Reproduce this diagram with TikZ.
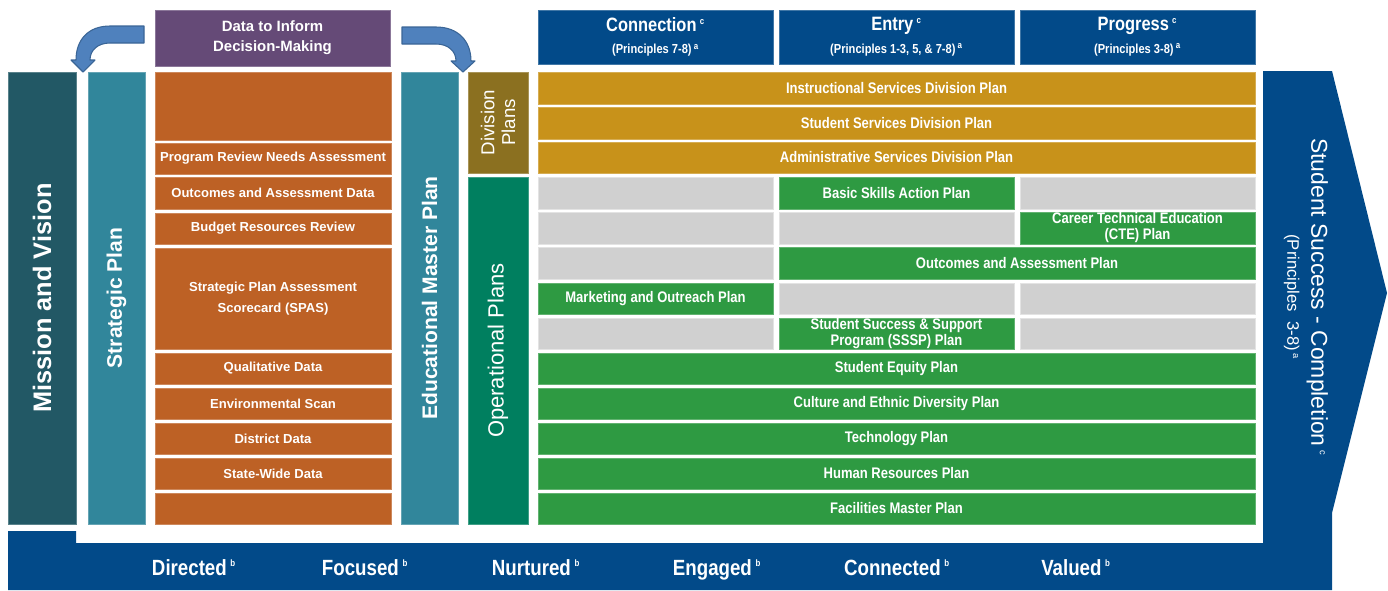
\documentclass[tikz,border=0pt]{standalone}
\usepackage{fontspec}
\setmainfont{Liberation Sans}
\newfontfamily\nar[FakeStretch=0.85]{Liberation Sans}
\definecolor{mission}{HTML}{225865}
\definecolor{teal}{HTML}{31869B}
\definecolor{orng}{HTML}{BD6125}
\definecolor{purp}{HTML}{654A77}
\definecolor{olive}{HTML}{8B7020}
\definecolor{opgreen}{HTML}{007F5F}
\definecolor{gold}{HTML}{C8921A}
\definecolor{grn}{HTML}{2E9A42}
\definecolor{gry}{HTML}{D0D0D0}
\definecolor{navy}{HTML}{024A89}
\definecolor{arrfill}{HTML}{4F81BD}
\definecolor{arrline}{HTML}{3A6596}
\newcommand\bx[7]{\node[#6, anchor=north west, minimum width={(#4-#2)*0.75pt}, minimum height={(#5-#3)*0.75pt}] (#1) at (#2,#3) {#7};}
\tikzset{
  base/.style={inner sep=0pt, outer sep=0pt, line width=0.5pt, text=white, align=center},
  colbox/.style={base, fill=#1, draw=#1!75!white},
  lft/.style={colbox=orng, font=\bfseries\fontsize{9.8}{15.5}\selectfont},
  rgt/.style={colbox=#1, font=\nar\bfseries\fontsize{11.5}{12}\selectfont},
  graycell/.style={base, fill=gry, draw=gry!60!white},
  hdr/.style={colbox=navy, font=\nar\bfseries\fontsize{14.5}{16}\selectfont},
  vtxt/.style={inner sep=0pt, text=white, align=center},
  bottomlbl/.style={inner sep=0pt, anchor=base, text=white, font=\nar\bfseries\fontsize{16.5}{17}\selectfont},
  bentarrow/.style={fill=arrfill, draw=arrline, line width=0.8pt, line join=round}
}
\newcommand\sups[1]{\,\textsuperscript{\fontsize{7}{8}\selectfont #1}}
\begin{document}
\begin{tikzpicture}[x=0.75pt,y=-0.75pt]
\useasboundingbox (0,0) rectangle (1388,590);
% big blue frame with arrow
\fill[navy] (8,531) -- (76,531) -- (76,543) -- (1263,543) -- (1263,71) -- (1332,71) -- (1387,293) -- (1332,513) -- (1332,590) -- (8,590) -- cycle;
\node[vtxt, rotate=-90, font=\fontsize{17.2}{19}\selectfont] (success) at (1306,297) {Student Success - Completion\sups{c}\\[-1pt]{\fontsize{12.5}{14}\selectfont (Principles~ 3-8)\sups{a}}};
% bottom labels
\node[bottomlbl] (l1) at (194,575) {Directed\sups{b}};
\node[bottomlbl] (l2) at (365,575) {Focused\sups{b}};
\node[bottomlbl] (l3) at (536,575) {Nurtured\sups{b}};
\node[bottomlbl] (l4) at (717,575) {Engaged\sups{b}};
\node[bottomlbl] (l5) at (897,575) {Connected\sups{b}};
\node[bottomlbl] (l6) at (1076,575) {Valued\sups{b}};
% left columns
\bx{mission}{8}{72}{76}{524}{colbox=mission}{}
\node[vtxt, rotate=90, font=\bfseries\fontsize{19}{22}\selectfont] (missiont) at (mission.center) {Mission and Vision};
\bx{strat}{88}{72}{145}{524}{colbox=teal}{}
\node[vtxt, rotate=90, font=\bfseries\fontsize{15.8}{18}\selectfont] (stratt) at (strat.center) {Strategic Plan};
\bx{emp}{401}{72}{458}{524}{colbox=teal}{}
\node[vtxt, rotate=90, font=\bfseries\fontsize{15.8}{18}\selectfont] (empt) at (emp.center) {Educational Master Plan};
\bx{divp}{468}{72}{528}{173}{colbox=olive}{}
\node[vtxt, rotate=90, font=\fontsize{14}{15.5}\selectfont] (divpt) at (divp.center) {Division\\Plans};
\bx{opp}{468}{177}{528}{524}{colbox=opgreen}{}
\node[vtxt, rotate=90, font=\fontsize{16.5}{18}\selectfont] (oppt) at (opp.center) {Operational Plans};
% data column
\bx{data}{155}{10}{390}{66}{colbox=purp, font=\bfseries\fontsize{11.2}{15}\selectfont}{Data to Inform\\Decision-Making}
\bx{o1}{155}{72}{391}{140}{lft}{}
\bx{o2}{155}{143}{391}{174}{lft}{Program Review Needs Assessment}
\bx{o3}{155}{177}{391}{209}{lft}{Outcomes and Assessment Data}
\bx{o4}{155}{213}{391}{244}{lft}{Budget Resources Review}
\bx{o5}{155}{248}{391}{349}{lft}{Strategic Plan Assessment\\Scorecard (SPAS)}
\bx{o6}{155}{353}{391}{384}{lft}{Qualitative Data}
\bx{o7}{155}{388}{391}{419}{lft}{Environmental Scan}
\bx{o8}{155}{423}{391}{454}{lft}{District Data}
\bx{o9}{155}{458}{391}{489}{lft}{State-Wide Data}
\bx{o10}{155}{493}{391}{524}{lft}{}
% headers
\bx{h1}{538}{10}{773}{64}{hdr}{Connection\sups{c}\\[1pt]{\fontsize{9.8}{11}\selectfont (Principles 7-8)\sups{a}}}
\bx{h2}{779}{10}{1014}{64}{hdr}{Entry\sups{c}\\[1pt]{\fontsize{9.8}{11}\selectfont (Principles 1-3, 5, \& 7-8)\sups{a}}}
\bx{h3}{1020}{10}{1255}{64}{hdr}{Progress\sups{c}\\[1pt]{\fontsize{9.8}{11}\selectfont (Principles 3-8)\sups{a}}}
% division rows
\bx{d1}{538}{72}{1255}{104}{rgt=gold}{Instructional Services Division Plan}
\bx{d2}{538}{107}{1255}{139}{rgt=gold}{Student Services Division Plan}
\bx{d3}{538}{142}{1255}{173}{rgt=gold}{Administrative Services Division Plan}
% grid
\bx{g11}{538}{177}{773}{209}{graycell}{}
\bx{g12}{779}{177}{1014}{209}{rgt=grn}{Basic Skills Action Plan}
\bx{g13}{1020}{177}{1255}{209}{graycell}{}
\bx{g21}{538}{212}{773}{244}{graycell}{}
\bx{g22}{779}{212}{1014}{244}{graycell}{}
\bx{g23}{1020}{212}{1255}{244}{rgt=grn}{Career Technical Education\\(CTE) Plan}
\bx{g31}{538}{247}{773}{279}{graycell}{}
\bx{g32}{779}{247}{1255}{279}{rgt=grn}{Outcomes and Assessment Plan}
\bx{g41}{538}{283}{773}{314}{rgt=grn}{Marketing and Outreach Plan}
\bx{g42}{779}{283}{1014}{314}{graycell}{}
\bx{g43}{1020}{283}{1255}{314}{graycell}{}
\bx{g51}{538}{318}{773}{349}{graycell}{}
\bx{g52}{779}{318}{1014}{349}{rgt=grn}{Student Success \& Support\\Program (SSSP) Plan}
\bx{g53}{1020}{318}{1255}{349}{graycell}{}
% full green rows
\bx{f1}{538}{353}{1255}{384}{rgt=grn}{Student Equity Plan}
\bx{f2}{538}{388}{1255}{419}{rgt=grn}{Culture and Ethnic Diversity Plan}
\bx{f3}{538}{423}{1255}{454}{rgt=grn}{Technology Plan}
\bx{f4}{538}{458}{1255}{489}{rgt=grn}{Human Resources Plan}
\bx{f5}{538}{493}{1255}{524}{rgt=grn}{Facilities Master Plan}
% bent arrows
\draw[bentarrow] (144,26) -- (110,26) .. controls (88,26) and (76,40) .. (76,60) -- (71,60) -- (83,72) -- (95,60) -- (90,60) .. controls (90,50) and (98,43) .. (110,43) -- (144,43) -- cycle;
\draw[bentarrow] (402,27) -- (436,27) .. controls (458,27) and (471,41) .. (471,61) -- (475,61) -- (463,72) -- (451,61) -- (456,61) .. controls (456,51) and (448,44) .. (436,44) -- (402,44) -- cycle;
\end{tikzpicture}
\end{document}
